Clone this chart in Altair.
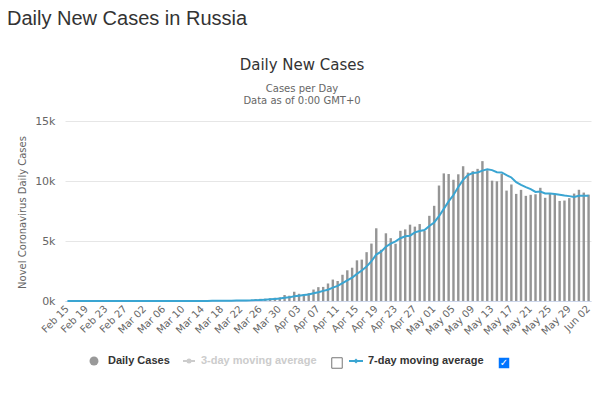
import altair as alt
import pandas as pd

dates = (
    [f"Feb {d:02d}" for d in range(15, 30)]
    + [f"Mar {d:02d}" for d in range(1, 32)]
    + [f"Apr {d:02d}" for d in range(1, 31)]
    + [f"May {d:02d}" for d in range(1, 32)]
    + ["Jun 01", "Jun 02"]
)

daily_cases = [
    # Feb 15 - Feb 29
    0, 0, 0, 0, 0, 0, 0, 0, 0, 0, 0, 0, 0, 0, 0,
    # Mar 1 - Mar 31
    0, 1, 0, 0, 1, 6, 0, 3, 0, 3, 8, 6, 17, 14, 4, 34, 21, 33, 52, 54,
    53, 61, 71, 57, 163, 182, 196, 228, 270, 302, 501,
    # Apr 1 - Apr 30
    440, 771, 601, 582, 658, 954, 1154, 1175, 1459, 1786, 1667, 2186, 2558,
    2774, 3388, 3448, 4070, 4785, 6060, 4268, 5642, 5236, 4774, 5849, 5966,
    6361, 6198, 6411, 5841, 7099,
    # May 1 - May 31
    7933, 9623, 10633, 10581, 10102, 10559, 11231, 10699, 10817, 11012,
    11656, 10899, 10028, 9974, 10598, 9200, 9709, 8926, 9263, 8764, 8849,
    8894, 9434, 8599, 8946, 8915, 8338, 8371, 8572, 8952, 9268,
    # Jun 1 - Jun 2
    9035, 8863,
]

tick_labels = dates[::4]
y_ticks = [0, 5000, 10000, 15000]

df = pd.DataFrame({"idx": range(len(dates)), "date": dates, "cases": daily_cases})

FONT = "DejaVu Sans"
GREY_TXT = "#666666"
BLUE = "#3aa5d2"
BAR = "#959595"

x_enc = alt.X(
    "date:N",
    sort=dates,
    scale=alt.Scale(paddingInner=0.5, paddingOuter=0.25),
    axis=alt.Axis(
        values=tick_labels, labelAngle=-45, labelAlign="right", labelBaseline="middle",
        labelFontSize=10, labelColor=GREY_TXT, labelFont=FONT, ticks=False,
        domainColor="#ccd6eb", labelPadding=6, title=None, grid=False,
    ),
)
y_scale = alt.Scale(domain=[0, 15000], nice=False)
y_axis = alt.Axis(
    values=y_ticks, format="~s", labelColor=GREY_TXT, labelFont=FONT, labelFontSize=11,
    ticks=False, domain=False, gridColor="#e6e6e6", labelPadding=10,
    title="Novel Coronavirus Daily Cases", titleFont=FONT, titleFontSize=10,
    titleFontWeight="normal", titleColor=GREY_TXT, titleX=-43, titleY=91,
    titleAlign="center", titleBaseline="middle", titleAngle=-90,
)

base = alt.Chart(df)
bars = base.mark_bar(color=BAR).encode(
    x=x_enc, y=alt.Y("cases:Q", scale=y_scale, axis=y_axis)
)
line = base.transform_window(
    avg7="mean(cases)", sort=[alt.SortField("idx")], frame=[-6, 0]
).mark_line(color=BLUE, strokeWidth=2).encode(
    x=x_enc, y=alt.Y("avg7:Q", scale=y_scale, axis=y_axis)
)

one = alt.Data(values=[{"a": 1}])


def txt(text, x, y, size, color, weight="normal", align="left", font=FONT):
    return alt.Chart(one).mark_text(
        text=text, fontSize=size, color=color, fontWeight=weight, align=align,
        baseline="middle", font=font,
    ).encode(x=alt.value(x), y=alt.value(y))


LY = 240
decor = [
    txt("Daily New Cases in Russia", -58, -102, 20, "#333333", font="Liberation Sans"),
    txt("Daily New Cases", 237, -56, 15, "#333333", align="center"),
    txt("Cases per Day", 237, -32, 10, GREY_TXT, align="center"),
    txt("Data as of 0:00 GMT+0", 237, -20, 10, GREY_TXT, align="center"),
    # legend
    alt.Chart(one).mark_point(shape="circle", filled=True, size=80, color="#999999", opacity=1)
    .encode(x=alt.value(29), y=alt.value(LY)),
    txt("Daily Cases", 43, LY, 11, "#333333", weight="bold", font="Liberation Sans"),
    alt.Chart(one).mark_rule(color="#cccccc", strokeWidth=2)
    .encode(x=alt.value(118), x2=alt.value(130), y=alt.value(LY)),
    alt.Chart(one).mark_point(shape="circle", filled=True, size=25, color="#cccccc", opacity=1)
    .encode(x=alt.value(124), y=alt.value(LY)),
    txt("3-day moving average", 136, LY, 11, "#cccccc", weight="bold", font="Liberation Sans"),
    alt.Chart(one).mark_square(size=110, fill="white", stroke="#767676", strokeWidth=1, opacity=1, cornerRadius=2)
    .encode(x=alt.value(272), y=alt.value(LY + 2)),
    alt.Chart(one).mark_rule(color=BLUE, strokeWidth=2)
    .encode(x=alt.value(284), x2=alt.value(298), y=alt.value(LY)),
    alt.Chart(one).mark_point(shape="diamond", filled=True, size=25, color=BLUE, opacity=1)
    .encode(x=alt.value(291), y=alt.value(LY)),
    txt("7-day moving average", 303, LY, 11, "#333333", weight="bold", font="Liberation Sans"),
    alt.Chart(one).mark_square(size=110, color="#0075ff", opacity=1)
    .encode(x=alt.value(439), y=alt.value(LY + 2)),
    txt("✓", 439, LY + 2, 10, "white", weight="bold", align="center"),
]

chart = alt.layer(bars, line, *decor).properties(
    width=526, height=180,
    autosize=alt.AutoSizeParams(type="none"),
    padding={"left": 57, "top": 113, "right": 1, "bottom": 76},
).configure_view(stroke=None)

chart.save("out.html", embed_options={"renderer": "svg", "actions": False})
